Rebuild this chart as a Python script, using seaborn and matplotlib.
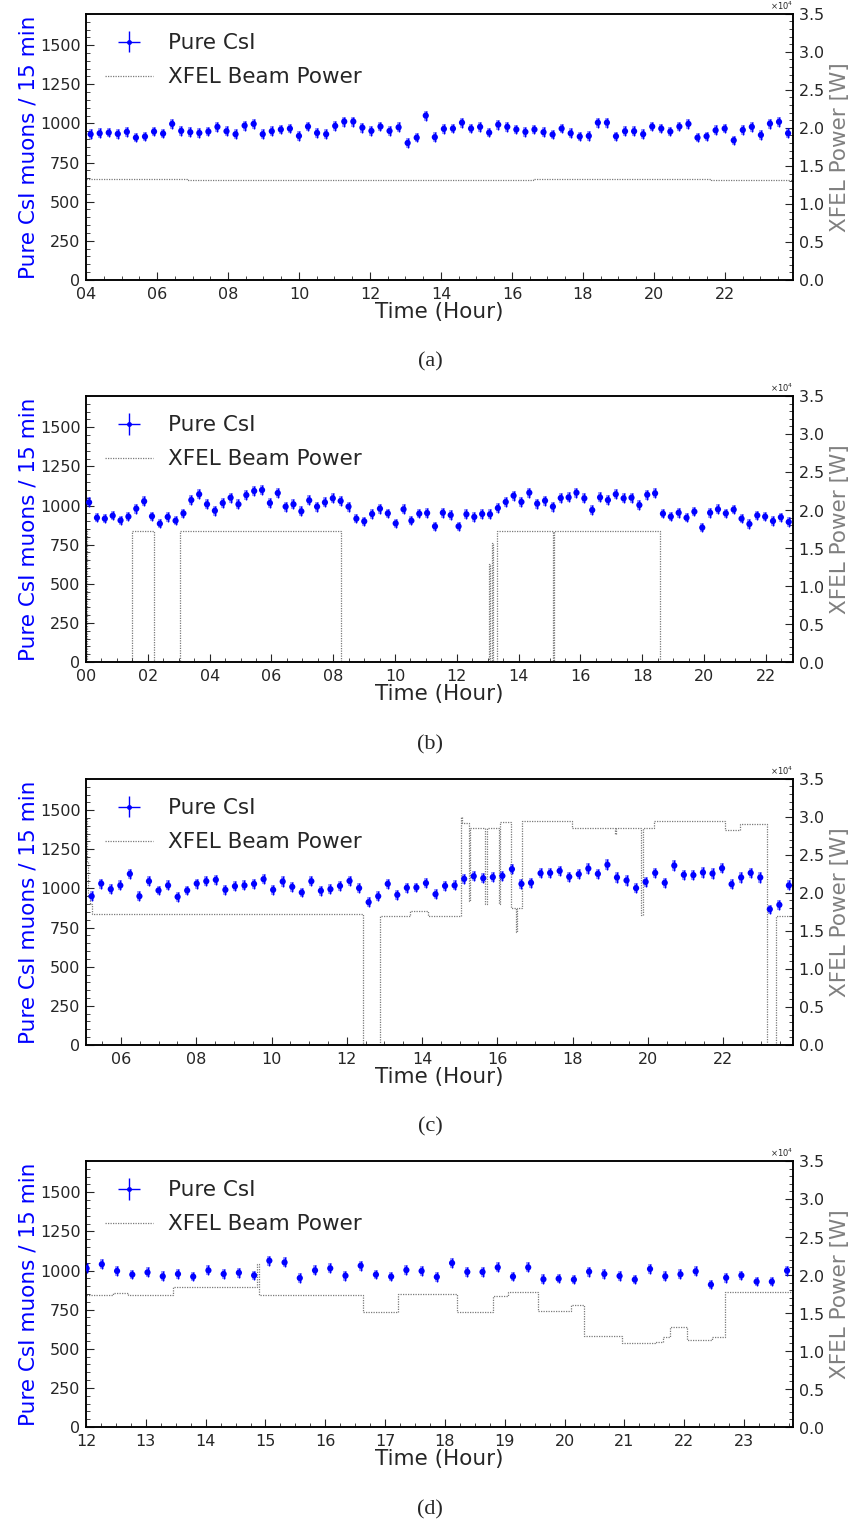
import numpy as np
import seaborn as sb
import matplotlib
matplotlib.use("Agg")
from matplotlib import pyplot as plt
from matplotlib.lines import Line2D
from matplotlib.ticker import MultipleLocator, FuncFormatter, ScalarFormatter

# ---- muon counts per 15 min bin ----
a_counts = [931, 937, 941, 933, 946, 909, 916, 948, 935, 997, 952, 944, 939, 948, 978, 950, 931,
            986, 997, 931, 950, 961, 967, 920, 980, 939, 931, 984, 1012, 1012, 973, 952, 980, 952,
            975, 875, 909, 1050, 912, 965, 967,
            1005, 967, 978, 941, 992, 978, 961, 946, 961, 944, 929, 967, 937, 916, 920, 1005, 1005,
            918, 950, 950, 931, 980, 967, 948, 980, 997, 909, 918, 956, 967, 892, 958, 978, 926,
            999, 1010, 937]
b_counts = [1020, 922, 916, 935, 905, 929, 980, 1027, 931, 884, 927, 903, 950, 1035, 1072, 1008,
            967, 1016, 1050, 1008, 1067, 1093, 1099, 1016, 1080, 993, 1008, 963, 1033, 993, 1020,
            1046, 1029, 993, 916, 899, 946, 980, 950, 886, 976, 903, 948, 952, 867, 954, 939, 867,
            944, 927, 946, 944, 984, 1023, 1063, 1023, 1082, 1012, 1031, 993, 1048, 1052, 1082,
            1046, 971, 1052, 1035, 1072, 1046, 1050, 1003, 1069, 1078, 948, 929, 954, 922, 961,
            859, 954, 976, 950, 974, 916, 882, 937, 929, 901, 925, 895]
c_counts = [950, 1031, 995, 1019, 1093, 950, 1046, 987, 1019, 946, 987, 1031, 1046, 1055, 991,
            1014, 1019, 1029, 1059, 991, 1044, 1010, 974, 1046, 985, 995, 1016, 1048, 1002, 912,
            950, 1029, 959, 1004, 1006, 1034, 963, 1016, 1019,
            1061, 1078, 1065, 1072, 1080, 1123, 1029, 1036, 1097, 1099, 1112, 1074, 1091, 1127,
            1093, 1151, 1070, 1051, 1002, 1042, 1099, 1036, 1146, 1087, 1085, 1102, 1095, 1129,
            1027, 1070, 1099, 1070, 867, 895, 1019]
d_counts = [1014, 1040, 997, 974, 988, 963, 978, 961, 1001, 978, 986, 969, 1063, 1052, 952, 1001,
            1014, 967, 1031, 974, 961, 1003, 997, 959, 1048,
            991, 991, 1020, 961, 1020, 944, 948, 942, 993, 978, 965, 942, 1010, 963, 976, 995, 910,
            954, 969, 929, 929, 999]

# first / last bin centre (hour)
a_span = (4.13, 23.78)
b_span = (0.10, 22.74)
c_span = (5.22, 23.75)
d_span = (12.01, 23.72)

# ---- XFEL beam power, step changes (hour, W) ----
a_pw_t = [4.00, 6.85, 10.0, 13.3, 16.6, 18.4, 21.6, 23.92]
a_pw_w = [13300, 13180, 13150, 13200, 13220, 13250, 13180, 13180]

b_pw_t = [0.00, 0.03, 1.50, 2.20, 3.04, 8.24, 13.05, 13.08, 13.15, 13.18, 13.29, 15.12, 15.16,
          18.58, 22.88]
b_pw_w = [17500, 0, 17300, 0, 17200, 0, 12900, 0, 15700, 0, 17250, 0, 17250, 0, 0]

c_pw_t = [5.07, 5.10, 5.13, 5.17, 5.22, 12.43, 12.89, 13.69, 14.17, 15.03, 15.07, 15.24, 15.28,
          15.68, 15.72, 16.04, 16.08, 16.36, 16.49, 16.53, 16.66, 17.99, 19.12, 19.16, 19.83,
          19.87, 20.16, 22.06, 22.46, 23.16, 23.40, 23.86]
c_pw_w = [29700, 24000, 19500, 18500, 17200, 0, 17000, 17600, 16900, 30000, 29200, 18900, 28500,
          18500, 28500, 18500, 29300, 18000, 14800, 18000, 29500, 28600, 27800, 28600, 17100,
          28500, 29400, 28300, 29000, 0, 16900, 16900]

d_pw_t = [12.00, 12.45, 12.71, 13.46, 14.86, 14.90, 16.63, 17.22, 18.20, 18.81, 19.06, 19.56,
          20.10, 20.33, 20.96, 21.52, 21.65, 21.77, 22.04, 22.46, 22.69, 23.82]
d_pw_w = [17370, 17600, 17370, 18380, 21500, 17330, 15130, 17460, 15090, 17240, 17810, 15220,
          16010, 11980, 11010, 11200, 11900, 13120, 11450, 11800, 17810, 17810]

panels = [
    ("(a)", a_counts, a_span, a_pw_t, a_pw_w, (4.0, 23.92), 2),
    ("(b)", b_counts, b_span, b_pw_t, b_pw_w, (0.0, 22.88), 2),
    ("(c)", c_counts, c_span, c_pw_t, c_pw_w, (5.07, 23.86), 2),
    ("(d)", d_counts, d_span, d_pw_t, d_pw_w, (12.0, 23.82), 1),
]

sb.set_style("ticks")
plt.rcParams["font.family"] = ["DejaVu Sans"]

fig = plt.figure(figsize=(8.5, 15.23), dpi=100)
bottoms = [0.8162, 0.5653, 0.3139, 0.0630]
cap_y = [0.7623, 0.5108, 0.2600, 0.0085]

for (tag, counts, span, pw_t, pw_w, xlim, step), bot, cy in zip(panels, bottoms, cap_y):
    ax = fig.add_axes([0.1012, bot, 0.8318, 0.1747])
    ax2 = ax.twinx()

    counts = np.asarray(counts, dtype=float)
    t = np.linspace(span[0], span[1], len(counts))
    err = np.sqrt(counts)

    # * power on the twin axis
    sb.lineplot(x=np.asarray(pw_t), y=np.asarray(pw_w, dtype=float), ax=ax2, estimator=None,
                drawstyle="steps-post", color="#7a7a7a", linestyle=(0, (1, 1)), linewidth=0.9)

    # * muon rate with errors
    ax.errorbar(t, counts, yerr=err, fmt="none", ecolor=(0, 0, 1, 0.4), elinewidth=2.8)
    ax.errorbar(t, counts, yerr=err, fmt="none", ecolor="blue", elinewidth=0.9)
    sb.scatterplot(x=t, y=counts, ax=ax, color="blue", s=20, edgecolor="none", zorder=4)

    ax.set_zorder(ax2.get_zorder() + 1)
    ax.patch.set_visible(False)

    ax.set_xlim(*xlim)
    ax.set_ylim(0, 1700)
    ax2.set_ylim(0, 35000)

    ax.xaxis.set_major_locator(MultipleLocator(step))
    ax.xaxis.set_minor_locator(MultipleLocator(step / 4))
    ax.xaxis.set_major_formatter(FuncFormatter(lambda v, p: f"{int(round(v)):02d}"))
    ax.yaxis.set_major_locator(MultipleLocator(250))
    ax.yaxis.set_minor_locator(MultipleLocator(50))
    ax2.yaxis.set_major_locator(MultipleLocator(5000))
    ax2.yaxis.set_minor_locator(MultipleLocator(1000))
    fmt = ScalarFormatter(useMathText=True)
    fmt.set_powerlimits((0, 0))
    ax2.yaxis.set_major_formatter(fmt)
    ax2.yaxis.get_offset_text().set_fontsize(6)

    ax.tick_params(axis="both", which="both", direction="in", labelsize=11.5)
    ax.tick_params(which="major", length=6)
    ax.tick_params(which="minor", length=3)
    ax.tick_params(axis="x", pad=5)
    ax.tick_params(axis="y", right=False, pad=4)
    ax2.tick_params(axis="y", which="both", direction="in", labelsize=11.5)
    ax2.tick_params(which="major", length=6)
    ax2.tick_params(which="minor", length=3)

    for a in (ax, ax2):
        for s in a.spines.values():
            s.set_linewidth(1.1)
            s.set_color("black")

    ax.set_xlabel("Time (Hour)", fontsize=15.5, labelpad=0)
    ax.set_ylabel("Pure CsI muons / 15 min", fontsize=15.5, color="blue", labelpad=1)
    ax2.set_ylabel("XFEL Power [W]", fontsize=15.5, color="gray", labelpad=4)

    # * legend
    h_err = ax.errorbar([np.nan], [np.nan], xerr=[1], yerr=[1], fmt="o", color="blue",
                        ms=2.5, elinewidth=1.0)
    h_pw = Line2D([], [], color="#7a7a7a", linestyle=(0, (1, 1)), linewidth=0.9)
    ax.legend([h_err, h_pw], ["Pure CsI", "XFEL Beam Power"], loc="upper left", frameon=False,
              fontsize=15.5, handlelength=2.2, handletextpad=0.7, labelspacing=0.65,
              borderaxespad=0.5)

    fig.text(0.506, cy, tag, ha="center", va="center", family="Liberation Serif", fontsize=16)

fig.savefig("out.png", dpi=100)
plt.close(fig)
